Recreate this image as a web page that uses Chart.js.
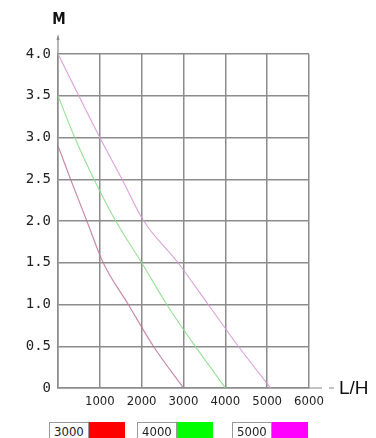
<!DOCTYPE html>
<html>
<head>
<meta charset="utf-8">
<script src="https://cdn.jsdelivr.net/npm/chart.js@4.4.0/dist/chart.umd.min.js"></script>
<style>
  html, body { margin: 0; padding: 0; background: #fff; }
  #wrap { position: relative; width: 376px; height: 438px; overflow: hidden; }
  .leg { position: absolute; top: 422px; height: 20px; display: flex; font: 13px "Liberation Sans Narrow", "DejaVu Sans Condensed", "Liberation Sans", sans-serif; color: #222; }
  .leg .lbl { border: 1px solid #999; padding: 1px 4px 0 4px; background: #fff; height: 18px; box-sizing: border-box; width: 40px; }
  .leg .sw { width: 36px; height: 18px; }
</style>
</head>
<body>
<div id="wrap">
  <canvas id="pumpChart" width="376" height="438"></canvas>
  <div class="leg" style="left:49px"><div class="lbl">3000</div><div class="sw" style="background:#ff0000"></div></div>
  <div class="leg" style="left:137px"><div class="lbl">4000</div><div class="sw" style="background:#00ff00"></div></div>
  <div class="leg" style="left:232px"><div class="lbl">5000</div><div class="sw" style="background:#ff00ff"></div></div>
</div>
<script>
// flow (L/H) vs head (M) for each pump model
const flow3000 = [0, 300, 690, 1080, 1680, 2280, 3000];
const head3000 = [2.9, 2.5, 2.0, 1.5, 1.0, 0.5, 0];
const flow4000 = [0, 400, 860, 1380, 2000, 2600, 3000, 4000];
const head4000 = [3.5, 3.0, 2.5, 2.0, 1.5, 1.0, 0.7, 0];
const flow5000 = [0, 1000, 1530, 2050, 2870, 3590, 4310, 5080];
const head5000 = [4.0, 3.0, 2.5, 2.0, 1.5, 1.0, 0.5, 0];
const xTicks = [0, 1000, 2000, 3000, 4000, 5000, 6000];
const yTicks = [0, 0.5, 1.0, 1.5, 2.0, 2.5, 3.0, 3.5, 4.0];

const toPts = (xs, ys) => xs.map((x, i) => ({ x: x, y: ys[i] }));

// axis arrows + unit labels
const axisExtras = {
    id: 'axisExtras',
    afterDraw(chart) {
        const { ctx, chartArea: a } = chart;
        ctx.save();
        ctx.strokeStyle = '#888';
        ctx.lineWidth = 1.2;
        ctx.beginPath();
        ctx.moveTo(a.left, a.top); ctx.lineTo(a.left, a.top - 17);
        ctx.moveTo(a.right, a.bottom); ctx.lineTo(a.right + 13, a.bottom);
        ctx.moveTo(a.right + 20, a.bottom); ctx.lineTo(a.right + 25, a.bottom);
        ctx.stroke();
        ctx.fillStyle = '#888';
        ctx.beginPath();
        ctx.moveTo(a.left, a.top - 20); ctx.lineTo(a.left - 1.5, a.top - 14); ctx.lineTo(a.left + 1.5, a.top - 14);
        ctx.fill();
        ctx.fillStyle = '#111';
        ctx.font = 'bold 15px "Liberation Sans Narrow", "DejaVu Sans Condensed", "Liberation Sans", sans-serif';
        ctx.textAlign = 'center';
        ctx.textBaseline = 'middle';
        ctx.fillText('M', a.left + 1, 20);
        ctx.font = '19px "Liberation Sans", sans-serif';
        ctx.textAlign = 'left';
        ctx.fillText('L/H', a.right + 30, a.bottom + 1);
        ctx.restore();
    }
};

new Chart(document.getElementById('pumpChart'), {
    type: 'line',
    data: {
        datasets: [
            { label: '3000', data: toPts(flow3000, head3000), borderColor: 'rgba(190,120,145,0.85)' },
            { label: '4000', data: toPts(flow4000, head4000), borderColor: 'rgba(140,220,140,0.85)' },
            { label: '5000', data: toPts(flow5000, head5000), borderColor: 'rgba(215,150,215,0.85)' }
        ]
    },
    options: {
        responsive: false,
        animation: false,
        events: [],
        layout: { padding: { top: 54, right: 67, left: 0, bottom: 0 } },
        elements: {
            line: { borderWidth: 1.2, cubicInterpolationMode: 'monotone', fill: false },
            point: { radius: 0 }
        },
        plugins: { legend: { display: false }, tooltip: { enabled: false } },
        scales: {
            x: {
                type: 'linear', min: 0, max: 6000,
                afterBuildTicks: s => { s.ticks = xTicks.map(v => ({ value: v })); },
                afterFit: s => { s.height = 50; },
                grid: { color: '#8c8c8c', lineWidth: 1.5, drawTicks: false },
                border: { color: '#8c8c8c', width: 1.5 },
                ticks: {
                    padding: 6,
                    color: '#222',
                    font: { family: '"Liberation Sans Narrow", "DejaVu Sans Condensed", "Liberation Sans", sans-serif', size: 13 },
                    callback: v => v === 0 ? '' : String(v)
                }
            },
            y: {
                type: 'linear', min: 0, max: 4,
                afterBuildTicks: s => { s.ticks = yTicks.map(v => ({ value: v })); },
                afterFit: s => { s.width = 58; },
                grid: { color: '#8c8c8c', lineWidth: 1.5, drawTicks: false },
                border: { color: '#8c8c8c', width: 1.5 },
                ticks: {
                    padding: 7,
                    color: '#222',
                    font: { family: '"DejaVu Sans Mono", monospace', size: 14 },
                    callback: v => v === 0 ? '0' : v.toFixed(1)
                }
            }
        }
    },
    plugins: [axisExtras]
});
</script>
</body>
</html>
